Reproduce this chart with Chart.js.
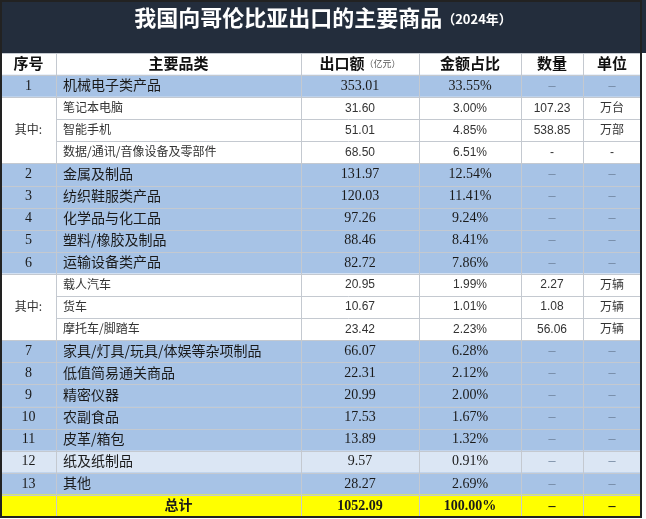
<!DOCTYPE html>
<html><head><meta charset="utf-8">
<script src="https://cdn.jsdelivr.net/npm/chart.js@4"></script>
<style>html,body{margin:0;padding:0;background:#fff}#wrap{width:646px;height:519px}</style>
</head><body><div id="wrap"><canvas id="c"></canvas></div>
<script>
// 表格数据
const titleText = '我国向哥伦比亚出口的主要商品';
const titleYear = '（2024年）';
const headers = ['序号', '主要品类', '出口额', '金额占比', '数量', '单位'];
const rowTypes = ['main','sub','sub','sub','main','main','main','main','main','sub','sub','sub','main','main','main','main','main','light','main','total'];
const seqs = ['1','','','','2','3','4','5','6','','','','7','8','9','10','11','12','13',''];
const names = ['机械电子类产品','笔记本电脑','智能手机','数据/通讯/音像设备及零部件','金属及制品','纺织鞋服类产品','化学品与化工品','塑料/橡胶及制品','运输设备类产品','载人汽车','货车','摩托车/脚踏车','家具/灯具/玩具/体娱等杂项制品','低值简易通关商品','精密仪器','农副食品','皮革/箱包','纸及纸制品','其他','总计'];
const values = ['353.01','31.60','51.01','68.50','131.97','120.03','97.26','88.46','82.72','20.95','10.67','23.42','66.07','22.31','20.99','17.53','13.89','9.57','28.27','1052.09'];
const shares = ['33.55%','3.00%','4.85%','6.51%','12.54%','11.41%','9.24%','8.41%','7.86%','1.99%','1.01%','2.23%','6.28%','2.12%','2.00%','1.67%','1.32%','0.91%','2.69%','100.00%'];
const qtys = ['-','107.23','538.85','-','-','-','-','-','-','2.27','1.08','56.06','-','-','-','-','-','-','-','-'];
const units = ['-','万台','万部','-','-','-','-','-','-','万辆','万辆','万辆','-','-','-','-','-','-','-','-'];
const groups = [[1,3],[9,11]]; // “其中”合并单元格

const cols = [0, 55, 300, 418, 520, 582, 640];
const labels = ['header'].concat(names);
const fills = {header:'#ffffff', main:'#a7c3e6', light:'#dbe6f4', sub:'#ffffff', total:'#ffff00'};
const allTypes = ['header'].concat(rowTypes);

const tablePlugin = {
  id: 'table',
  beforeDraw(chart) {
    const ctx = chart.ctx;
    ctx.save();
    ctx.fillStyle = '#232d3c';
    ctx.fillRect(0, 0, chart.width, chart.chartArea.top);
    ctx.fillStyle = '#fff';
    ctx.textBaseline = 'middle';
    ctx.font = 'bold 22px "Noto Sans CJK SC"';
    const w1 = ctx.measureText(titleText).width;
    ctx.font = 'bold 13px "Noto Sans CJK SC"';
    const w2 = ctx.measureText(titleYear).width;
    const x0 = (chart.width - w1 - w2) / 2;
    ctx.font = 'bold 22px "Noto Sans CJK SC"';
    ctx.textAlign = 'left';
    ctx.fillText(titleText, x0, 18);
    ctx.font = 'bold 13px "Noto Sans CJK SC"';
    ctx.fillText(titleYear, x0 + w1, 19);
    ctx.restore();
  },
  afterDatasetsDraw(chart) {
    const ctx = chart.ctx, xs = chart.scales.x, ys = chart.scales.y;
    const half = (ys.getPixelForValue(1) - ys.getPixelForValue(0)) / 2;
    const X = v => xs.getPixelForValue(v);
    const inGroup = i => groups.some(g => i > g[0] && i <= g[1]);
    ctx.save();
    // 网格线
    ctx.strokeStyle = '#c4c9d0';
    ctx.lineWidth = 1;
    for (let i = 0; i <= labels.length; i++) {
      const y = Math.round(ys.getPixelForValue(i) - half) + 0.5;
      const start = inGroup(i - 1) ? X(cols[1]) : X(0);
      ctx.beginPath(); ctx.moveTo(start, y); ctx.lineTo(X(640), y); ctx.stroke();
    }
    const top = ys.getPixelForValue(0) - half, bot = ys.getPixelForValue(labels.length - 1) + half;
    cols.forEach(c => {
      ctx.beginPath(); ctx.moveTo(Math.round(X(c)) + 0.5, top); ctx.lineTo(Math.round(X(c)) + 0.5, bot); ctx.stroke();
    });
    ctx.strokeStyle = '#222';
    ctx.lineWidth = 2;
    ctx.strokeRect(X(0), 1, X(640) - X(0), bot - 1);
    // 文本
    ctx.textBaseline = 'middle';
    const mid = k => (X(cols[k]) + X(cols[k + 1])) / 2;
    const yh = ys.getPixelForValue(0) - 1;
    ctx.fillStyle = '#111';
    ctx.textAlign = 'center';
    ctx.font = 'bold 15px "Noto Sans CJK SC"';
    headers.forEach((h, k) => {
      if (k === 2) {
        ctx.textAlign = 'left';
        const w = ctx.measureText(h).width;
        ctx.font = '9px "Noto Sans CJK SC"';
        const w2 = ctx.measureText('（亿元）').width;
        const x = mid(k) - (w + w2) / 2;
        ctx.font = 'bold 15px "Noto Sans CJK SC"';
        ctx.fillText(h, x, yh);
        ctx.font = '9px "Noto Sans CJK SC"';
        ctx.fillStyle = '#555';
        ctx.fillText('（亿元）', x + w, yh + 1);
        ctx.fillStyle = '#111';
        ctx.font = 'bold 15px "Noto Sans CJK SC"';
        ctx.textAlign = 'center';
      } else ctx.fillText(h, mid(k), yh);
    });
    rowTypes.forEach((t, i) => {
      const y = ys.getPixelForValue(i + 1);
      const sub = t === 'sub', tot = t === 'total';
      const serif = tot ? 'bold 14px "Liberation Serif", "Noto Sans CJK SC"' : '14px "Liberation Serif", "Noto Sans CJK SC"';
      const cjk = sub ? '12px "Noto Sans CJK SC"' : (tot ? 'bold 14px "Noto Sans CJK SC"' : '14px "Noto Sans CJK SC"');
      const num = sub ? '12px "Liberation Sans Narrow", "Liberation Sans"' : serif;
      ctx.fillStyle = sub ? '#333' : '#1a1a1a';
      ctx.font = serif;
      ctx.textAlign = 'center';
      ctx.fillText(seqs[i], mid(0), y);
      ctx.font = cjk;
      if (tot) ctx.fillText(names[i], mid(1), y - 1);
      else { ctx.textAlign = 'left'; ctx.fillText(names[i], X(cols[1]) + 7, y - 1); ctx.textAlign = 'center'; }
      ctx.font = num;
      ctx.fillText(values[i], mid(2), y);
      ctx.fillText(shares[i], mid(3), y);
      [qtys[i], units[i]].forEach((s, j) => {
        if (s === '-') {
          ctx.fillStyle = sub ? '#333' : (tot ? '#111' : '#6b7f99');
          ctx.font = num;
          ctx.fillText(sub ? '-' : '–', mid(4 + j), y);
        } else {
          ctx.fillStyle = '#333';
          ctx.font = j ? '12px "Noto Sans CJK SC"' : num;
          ctx.fillText(s, mid(4 + j), j ? y - 1 : y);
        }
      });
    });
    ctx.font = '12px "Noto Sans CJK SC"';
    ctx.fillStyle = '#333';
    groups.forEach(g => {
      const y = (ys.getPixelForValue(g[0] + 1) + ys.getPixelForValue(g[1] + 1)) / 2;
      ctx.fillText('其中:', mid(0), y - 1);
    });
    ctx.restore();
  }
};

new Chart(document.getElementById('c'), {
  type: 'bar',
  data: {
    labels: labels,
    datasets: [{
      data: labels.map(() => [cols[0], cols[cols.length - 1]]),
      backgroundColor: allTypes.map(t => fills[t]),
      barPercentage: 1,
      categoryPercentage: 1,
      borderWidth: 0
    }]
  },
  options: {
    indexAxis: 'y',
    responsive: true,
    maintainAspectRatio: false,
    animation: false,
    layout: {padding: {top: 53, bottom: 2, left: 1, right: 5}},
    plugins: {legend: {display: false}, tooltip: {enabled: false}},
    scales: {
      x: {display: false, min: 0, max: 640},
      y: {display: false}
    }
  },
  plugins: [tablePlugin]
});
</script>
</body></html>
